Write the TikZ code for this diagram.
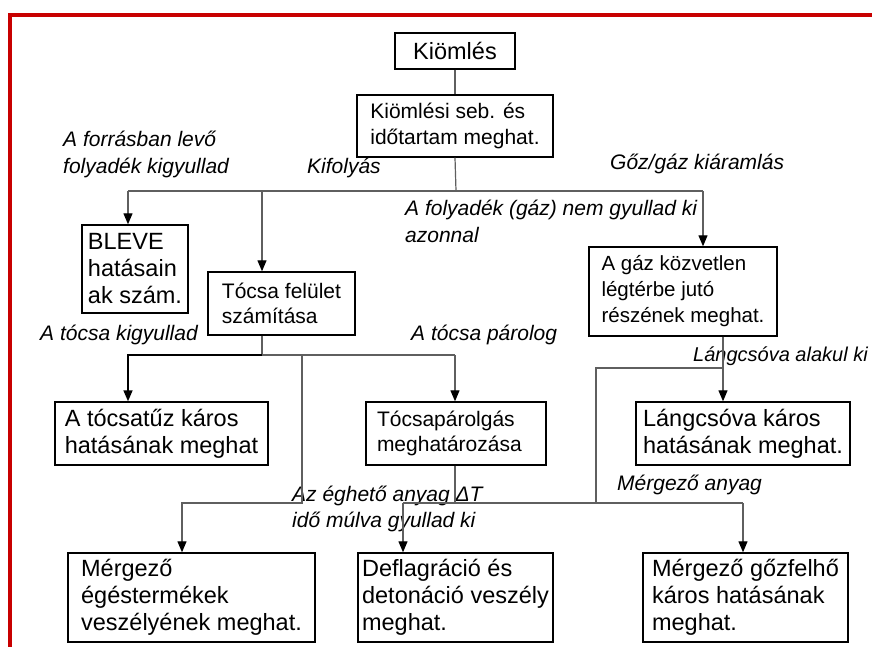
\documentclass[tikz,border=0pt]{standalone}
\usepackage{fontspec}
\setmainfont{Liberation Sans}
\usetikzlibrary{arrows.meta}
\definecolor{frame}{RGB}{200,0,0}
\definecolor{conn}{RGB}{95,95,95}
\begin{document}
\begin{tikzpicture}[x=1pt,y=-1pt,
  box/.style={draw=black, line width=1.4pt, align=left, inner sep=0pt,
    font=\fontsize{23.5}{27}\selectfont},
  sbox/.style={box, font=\fontsize{21}{25.5}\selectfont},
  lab/.style={inner sep=0pt, align=left, anchor=west,
    font=\fontsize{21}{26.5}\selectfont\itshape},
  con/.style={draw=conn, line width=1.2pt},
  arr/.style={con, -{Triangle[length=11pt,width=9pt,color=black]}},
  darr/.style={arr, draw=black, line width=1.6pt}
]
\useasboundingbox (0,0) rectangle (872,646);
\fill[white] (0,0) rectangle (872,646);
\draw[frame, line width=4.5pt] (10,650) -- (10,15) -- (880,15);

% boxes
\node[box, align=center, minimum width=120pt, minimum height=36pt] (kiomles) at (455,51) {Kiömlés};
\node[sbox, minimum width=196pt, minimum height=62pt] (kiomlesi) at (455,126) {Kiömlési seb. és\\időtartam meghat.};
\node[box, minimum width=106pt, minimum height=88pt] (bleve) at (135,269) {BLEVE\\hatásain\\ak szám.};
\node[sbox, minimum width=147pt, minimum height=63pt] (tocsa) at (281.5,303.5) {Tócsa felület\\számítása};
\node[sbox, font=\fontsize{20.5}{26}\selectfont, minimum width=188pt, minimum height=89pt] (gaz) at (683,291.5) {A gáz közvetlen\\légtérbe jutó\\részének meghat.};
\node[box, minimum width=213pt, minimum height=63pt] (tuz) at (161.5,433.5) {A tócsatűz káros\\hatásának meghat};
\node[sbox, inner xsep=11pt, text width=158pt, minimum height=63pt] (parolg) at (456,433.5) {Tócsapárolgás\\meghatározása};
\node[box, minimum width=214pt, minimum height=63pt] (lang) at (743,433.5) {Lángcsóva káros\\hatásának meghat.};
\node[box, minimum width=247pt, minimum height=89pt] (merg1) at (191.5,597.5) {Mérgező\\égéstermékek\\veszélyének meghat.};
\node[box, minimum width=195pt, minimum height=89pt] (defl) at (455.5,597.5) {Deflagráció és\\detonáció veszély\\meghat.};
\node[box, minimum width=205pt, minimum height=89pt] (merg2) at (745.5,597.5) {Mérgező gőzfelhő\\káros hatásának\\meghat.};

% labels
\node[lab] (l1) at (63,154.5) {A forrásban levő\\folyadék kigyullad};
\node[lab] (l2) at (307,168) {Kifolyás};
\node[lab] (l3) at (610,164) {Gőz/gáz kiáramlás};
\node[lab] (l4) at (405,221.5) {A folyadék (gáz) nem gyullad ki\\azonnal};
\node[lab] (l5) at (40,335) {A tócsa kigyullad};
\node[lab] (l6) at (411,335) {A tócsa párolog};
\node[lab, font=\fontsize{20}{25}\selectfont\itshape] (l7) at (693,356) {Lángcsóva alakul ki};
\node[lab] (l8) at (617,485) {Mérgező anyag};
\node[lab] (l9) at (292,509) {Az éghető anyag ΔT\\idő múlva gyullad ki};

% connectors
\coordinate (j1) at (456,191);
\coordinate (h1l) at (128,191);
\coordinate (h1m) at (262,191);
\coordinate (h1r) at (703,191);
\draw[con] (kiomles.south) -- (kiomlesi.north);
\draw[con] (kiomlesi.south) -- (j1);
\draw[con] (h1l) -- (h1r);
\draw[arr] (h1l) -- (h1l |- bleve.north);
\draw[arr] (h1m) -- (h1m |- tocsa.north);
\draw[arr] (h1r) -- (h1r |- gaz.north);

\coordinate (t1) at (262,355);
\coordinate (h2l) at (128,355);
\coordinate (h2r) at (455,355);
\draw[con] (t1 |- tocsa.south) -- (t1);
\draw[con] (t1) -- (h2r);
\draw[darr] (t1) -- (h2l) -- (h2l |- tuz.north);
\draw[arr] (h2r) -- (h2r |- parolg.north);

\coordinate (v1) at (302,355);
\coordinate (v1b) at (302,503);
\coordinate (m1) at (182,503);
\draw[arr] (v1) -- (v1b) -- (m1) -- (m1 |- merg1.north);

\coordinate (p1) at (455,503);
\coordinate (h3l) at (403,503);
\coordinate (h3r) at (743,503);
\draw[con] (p1 |- parolg.south) -- (p1);
\draw[con] (h3l) -- (h3r);
\draw[arr] (h3l) -- (h3l |- defl.north);
\draw[arr] (h3r) -- (h3r |- merg2.north);

\coordinate (g1) at (723,368);
\coordinate (g2) at (596,368);
\coordinate (g3) at (596,503);
\draw[arr] (g1 |- gaz.south) -- (g1 |- lang.north);
\draw[con] (g1) -- (g2) -- (g3);
\end{tikzpicture}
\end{document}
